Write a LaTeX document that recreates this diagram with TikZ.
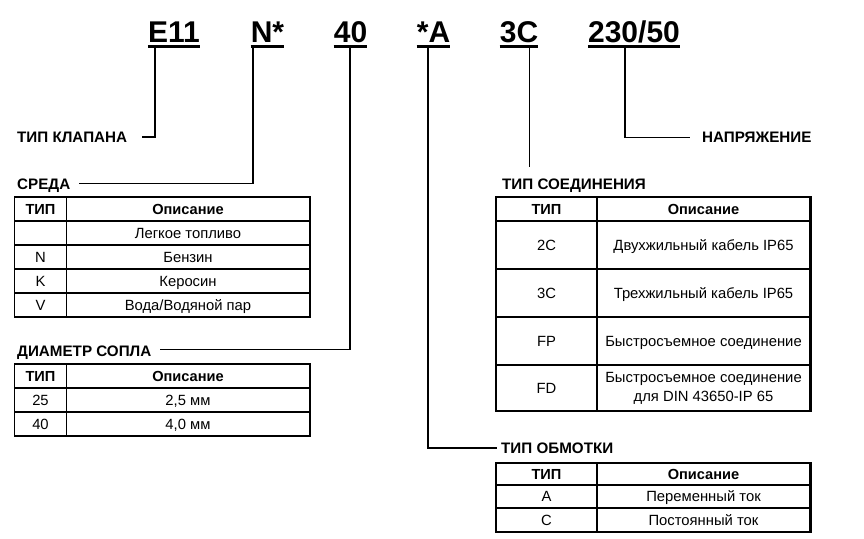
\documentclass[tikz,border=0pt]{standalone}
\usepackage{fontspec}
\setmainfont{Liberation Sans}
\tikzset{
  code/.style={font=\fontsize{30}{36}\selectfont\bfseries, inner sep=0pt, anchor=base},
  uline/.style={line width=2.4pt},
  conn/.style={line width=1.5pt},
  thinconn/.style={line width=0.9pt},
  lbl/.style={font=\fontsize{15.2}{17}\selectfont\bfseries, inner sep=0pt, anchor=base west},
  hd/.style={font=\fontsize{14.6}{16}\selectfont\bfseries, inner sep=0pt, anchor=base},
  cell/.style={font=\fontsize{14.8}{16}\selectfont, inner sep=0pt, anchor=base},
  tabL/.style={line width=1.6pt},
  tabLin/.style={line width=1.1pt},
  tabR/.style={line width=2.6pt},
  tabRin/.style={line width=1.1pt}
}
\begin{document}
\begin{tikzpicture}[x=1pt,y=-1pt]
\useasboundingbox (0,0) rectangle (864,538);

% ---- code line ----
\node[code] (e11) at (174,42) {E11};
\node[code] (n)   at (267.5,42) {N*};
\node[code] (d40) at (350.5,42) {40};
\node[code] (a)   at (433.5,42) {*A};
\node[code] (c3)  at (519,42) {3C};
\node[code] (v)   at (634,42) {230/50};
\foreach \k in {e11,n,d40,a,c3,v}
  \draw[uline] ([yshift=-4.5pt]\k.base west) -- ([yshift=-4.5pt]\k.base east);

% ---- labels ----
\node[lbl] (lklap) at (17,142) {ТИП КЛАПАНА};
\node[lbl] (lsreda) at (17,189.5) {СРЕДА};
\node[lbl] (ldiam) at (17,356.5) {ДИАМЕТР СОПЛА};
\node[lbl] (lsoed) at (502,189) {ТИП СОЕДИНЕНИЯ};
\node[lbl] (lobm) at (501,453) {ТИП ОБМОТКИ};
\node[lbl] (lnapr) at (702,142) {НАПРЯЖЕНИЕ};

% ---- connector corners / free ends ----
\coordinate (s1) at (155,47);   \coordinate (t1) at (142,137);
\coordinate (s2) at (253,47);   \coordinate (t2) at (79,183.5);
\coordinate (s3) at (350,47);   \coordinate (t3) at (160,349.5);
\coordinate (s4) at (428,47);   \coordinate (t4) at (497,448);
\coordinate (s5) at (529,47);   \coordinate (t5) at (529,167);
\coordinate (s6) at (625,47);   \coordinate (t6) at (690,137.5);

\draw[conn] (s1) |- (t1);
\draw[conn] (s2) |- (t2);
\draw[conn] (s3) |- (t3);
\draw[conn] (s4) |- (t4);
\draw[thinconn] (s5) -- (t5);
\draw[conn] (s6) |- (t6);

% ---- table СРЕДА ----
\draw[tabLin] (14.5,221) -- (310,221) (14.5,245) -- (310,245)
  (14.5,269) -- (310,269) (14.5,293) -- (310,293) (66.5,197) -- (66.5,317);
\draw[line width=1.6pt] (14.5,245) -- (310,245);
\draw[tabL] (14.5,197) rectangle (310,317);
\node[hd]   (t1h1) at (40.5,214) {ТИП};
\node[hd]   (t1h2) at (188,214) {Описание};
\node[cell] (t1r1b) at (188,238) {Легкое топливо};
\node[cell] (t1r2a) at (40.5,262) {N};
\node[cell] (t1r2b) at (188,262) {Бензин};
\node[cell] (t1r3a) at (40.5,286) {K};
\node[cell] (t1r3b) at (188,286) {Керосин};
\node[cell] (t1r4a) at (40.5,310) {V};
\node[cell] (t1r4b) at (188,310) {Вода/Водяной пар};

% ---- table ДИАМЕТР СОПЛА ----
\draw[tabLin] (14.5,388) -- (310,388) (14.5,412) -- (310,412) (66.5,364) -- (66.5,436);
\draw[tabL] (14.5,364) rectangle (310,436);
\node[hd]   (t2h1) at (40.5,381) {ТИП};
\node[hd]   (t2h2) at (188,381) {Описание};
\node[cell] (t2r1a) at (40.5,405) {25};
\node[cell] (t2r1b) at (188,405) {2,5 мм};
\node[cell] (t2r2a) at (40.5,429) {40};
\node[cell] (t2r2b) at (188,429) {4,0 мм};

% ---- table ТИП СОЕДИНЕНИЯ ----
\draw[tabRin] (496,221) -- (810.5,221) (496,269) -- (810.5,269)
  (496,317) -- (810.5,317) (496,365) -- (810.5,365) (597,197) -- (597,411);
\draw[tabR] (496,197) rectangle (810.5,411);
\node[hd]   (t3h1) at (546.5,214) {ТИП};
\node[hd]   (t3h2) at (703.5,214) {Описание};
\node[cell] (t3r1a) at (546.5,250) {2C};
\node[cell] (t3r1b) at (703.5,250) {Двухжильный кабель IP65};
\node[cell] (t3r2a) at (546.5,298) {3C};
\node[cell] (t3r2b) at (703.5,298) {Трехжильный кабель IP65};
\node[cell] (t3r3a) at (546.5,346) {FP};
\node[cell] (t3r3b) at (703.5,346) {Быстросъемное соединение};
\node[cell] (t3r4a) at (546.5,393) {FD};
\node[cell, anchor=center, align=center, font=\fontsize{14.8}{19}\selectfont] (t3r4b) at (703.5,388.5)
  {Быстросъемное соединение\\для DIN 43650-IP 65};

% ---- table ТИП ОБМОТКИ ----
\draw[tabRin] (496,485) -- (810.5,485) (496,508) -- (810.5,508) (597,463) -- (597,532);
\draw[tabR] (496,463) rectangle (810.5,532);
\node[hd]   (t4h1) at (546.5,479) {ТИП};
\node[hd]   (t4h2) at (703.5,479) {Описание};
\node[cell] (t4r1a) at (546.5,501.5) {A};
\node[cell] (t4r1b) at (703.5,501.5) {Переменный ток};
\node[cell] (t4r2a) at (546.5,525) {C};
\node[cell] (t4r2b) at (703.5,525) {Постоянный ток};
\end{tikzpicture}
\end{document}
